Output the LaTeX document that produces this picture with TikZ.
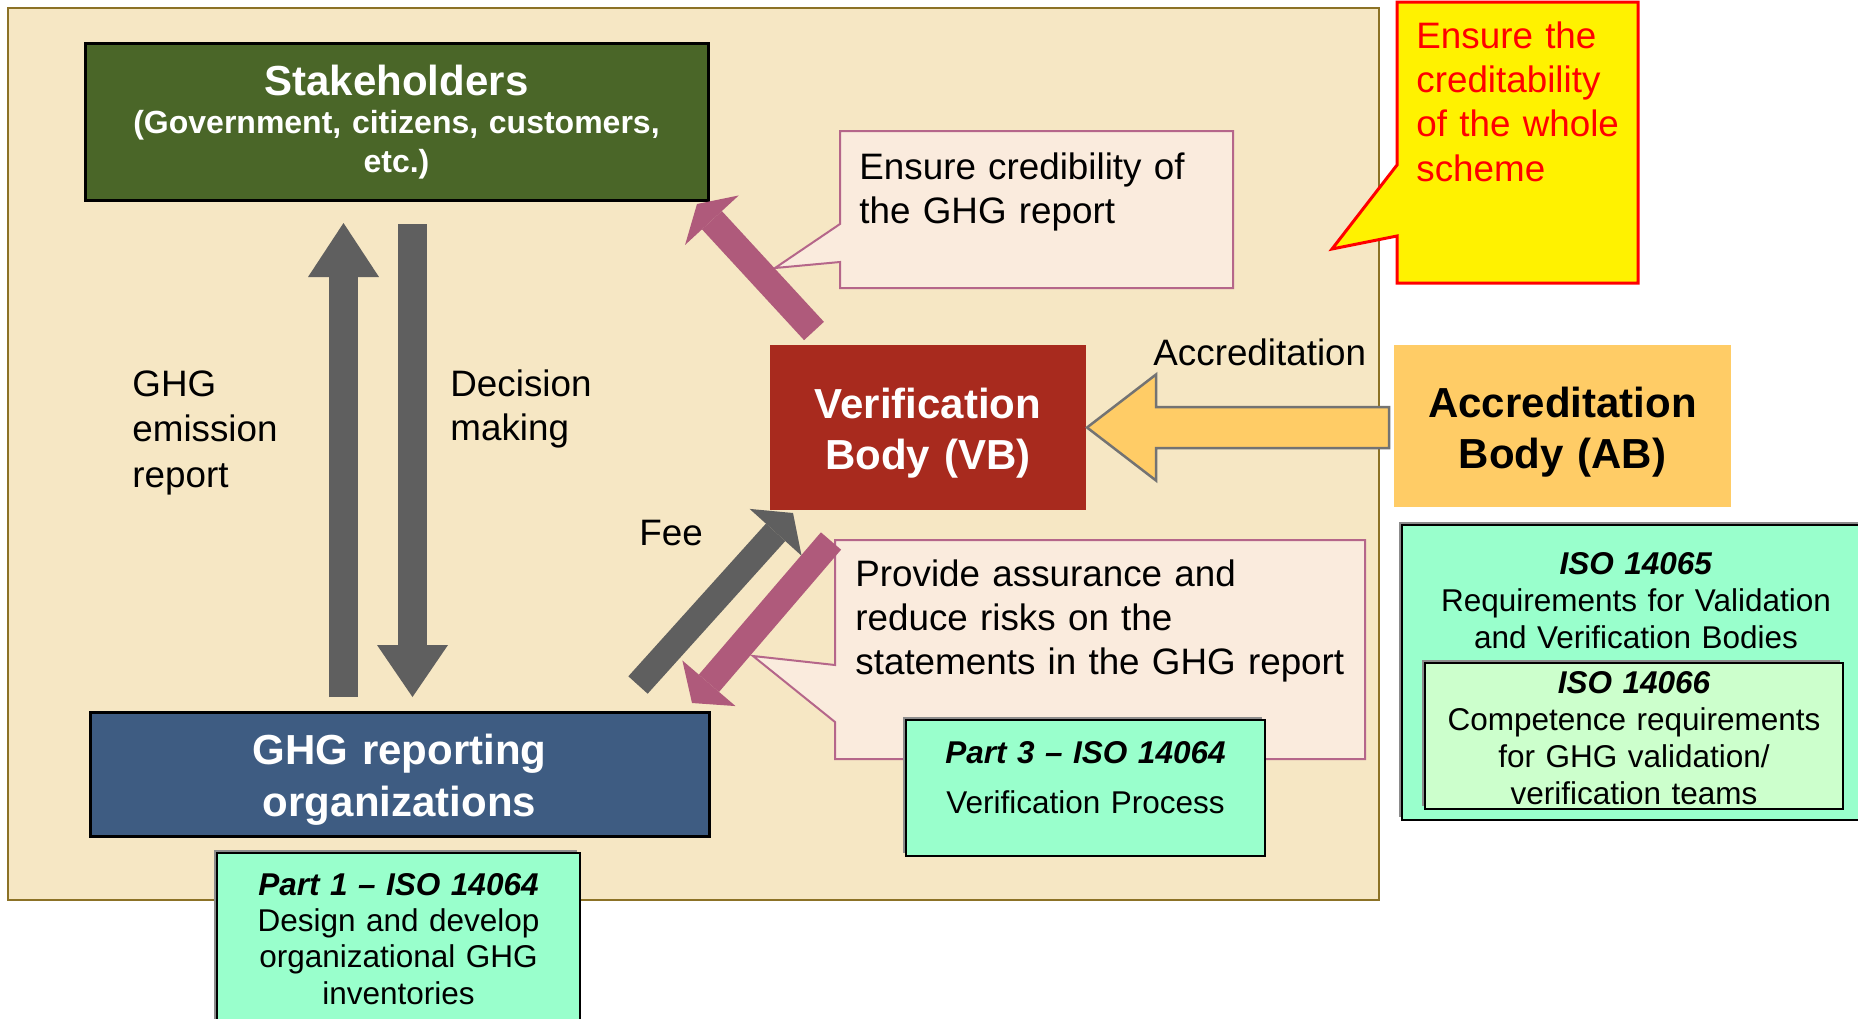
\documentclass[tikz,border=0pt]{standalone}
\usepackage{fontspec}
\setmainfont{Liberation Sans}
\usetikzlibrary{positioning, calc, arrows.meta, shadows}
\definecolor{schemetan}{HTML}{F6E7C4}
\definecolor{schemeedge}{HTML}{8C7226}
\definecolor{stakegreen}{HTML}{4A6628}
\definecolor{orgblue}{HTML}{3E5C82}
\definecolor{vbred}{HTML}{A82A1E}
\definecolor{aborange}{HTML}{FFCC66}
\definecolor{isomint}{HTML}{99FFCC}
\definecolor{isolight}{HTML}{CCFFCC}
\definecolor{notefill}{HTML}{FAEBDD}
\definecolor{noteedge}{HTML}{B5668A}
\definecolor{flowpink}{HTML}{AF5A7B}
\definecolor{flowgrey}{HTML}{5F5F5F}

\begin{document}
\begin{tikzpicture}[x=0.5pt, y=-0.5pt,
    block/.style={rectangle, anchor=north west, inner sep=0pt, outer sep=0pt},
    framed/.style={block, draw=black, line width=1.5pt},
    isobox/.style={block, draw=black, line width=1.25pt,
      drop shadow={shadow xshift=-1.75pt, shadow yshift=1.75pt, fill=gray!90, opacity=1}},
    boxtitle/.style={anchor=base, inner sep=0pt, align=center, text width=300pt,
      font=\bfseries\fontsize{21pt}{25.75pt}\selectfont},
    isotext/.style={anchor=base, inner sep=0pt, align=center, text width=215pt,
      font=\fontsize{15.75pt}{18.5pt}\selectfont},
    caption/.style={anchor=base west, inner sep=0pt, align=left, text width=270pt,
      font=\fontsize{18.4pt}{22.2pt}\selectfont},
    noteline/.style={fill=notefill, draw=noteedge, line width=1pt},
    flowarrow/.style n args={4}{draw=#1, line width=#2,
      -{Triangle[length=#3, width=#4, line width=0pt]}}]

  \useasboundingbox (0,0) rectangle (1858,1018);
  \fill[white] (0,0) rectangle (1858,1018);

% SCHEME BACKGROUND

  \draw[fill=schemetan, draw=schemeedge, line width=1pt] (8,8) rectangle (1379,900);

% BODIES

  \node[framed, fill=stakegreen, minimum width=311.5pt, minimum height=78.5pt] (stake) at (85,43) {};
  \node[framed, fill=orgblue, minimum width=309.5pt, minimum height=62pt] (org) at (90,712) {};
  \node[block, fill=vbred, minimum width=158pt, minimum height=82.5pt] (vb) at (770,345) {};
  \node[block, fill=aborange, minimum width=168.5pt, minimum height=81pt] (ab) at (1394,345) {};

% NOTES

  \node[block, minimum width=196.5pt, minimum height=78.5pt] (credbox) at (840,131) {};
  \draw[noteline] (credbox.north west) -- (credbox.north east) -- (credbox.south east)
    -- (credbox.south west) -- ++(0,-26) -- ($(credbox.north west)+(-65,137)$)
    -- ($(credbox.north west)+(0,93)$) -- cycle;

  \node[block, minimum width=265pt, minimum height=109.5pt] (assurbox) at (835,540) {};
  \draw[noteline] (assurbox.north west) -- (assurbox.north east) -- (assurbox.south east)
    -- (assurbox.south west) -- ++(0,-37) -- ($(assurbox.north west)+(-82,116)$)
    -- ($(assurbox.north west)+(0,125)$) -- cycle;

  \node[block, minimum width=120.5pt, minimum height=140.5pt] (wholebox) at (1397,2) {};
  \draw[fill=yellow, draw=red, line width=1.5pt] (wholebox.north west) -- (wholebox.north east)
    -- (wholebox.south east) -- (wholebox.south west) -- ++(0,-47)
    -- ($(wholebox.north west)+(-65,247)$) -- ($(wholebox.north west)+(0,163)$) -- cycle;

% ACCREDITATION ARROW

  \coordinate (acctip) at ($(vb.east)+(1,0)$);
  \draw[fill=aborange, draw=black!55, line width=1.25pt] (acctip) -- ++(69,-53) -- ++(0,32.5)
    -| ($(ab.west)+(-5,0)$) |- ($(acctip)+(69,20.5)$) -- ++(0,32.5) -- cycle;

% STANDARDS

  \node[isobox, fill=isomint, minimum width=179.5pt, minimum height=68pt] (part3) at (906,720) {};
  \node[isobox, fill=isomint, minimum width=181.5pt, minimum height=87.5pt] (part1) at (217,853) {};
  \node[isobox, fill=isomint, minimum width=235pt, minimum height=147.5pt] (iso65) at (1402,525) {};
  \node[isobox, fill=isolight, minimum width=209pt, minimum height=73pt] (iso66) at (1425,663) {};

% FLOWS

  \draw[flowarrow={flowgrey}{14.5pt}{27pt}{35.5pt}] ($(org.north)+(-56,-15)$) -- ($(stake.south)+(-53,23)$);
  \draw[flowarrow={flowgrey}{14.5pt}{26pt}{35.5pt}] ($(stake.south)+(16,24)$) -- ($(org.north)+(13,-15)$);
  \draw[flowarrow={flowgrey}{13pt}{13pt}{35pt}] ($(org.north east)+(-71,-27)$) -- ($(vb.south west)+(23,3)$);
  \draw[flowarrow={flowpink}{13.5pt}{11pt}{36.5pt}] ($(vb.north west)+(44,-14)$) -- ($(stake.south east)+(-11,4)$);
  \draw[flowarrow={flowpink}{13.3pt}{13pt}{35pt}] ($(vb.south west)+(61,31)$) -- ($(org.north east)+(-17,-9)$);

% TEXTS

  \node[boxtitle, text=white] (staketitle) at ($(stake.north)+(0,52)$) {Stakeholders};
  \node[boxtitle, text=white, font=\bfseries\fontsize{16pt}{19.5pt}\selectfont] (stakesub)
    at ($(stake.north)+(0,90.5)$) {(Government, citizens, customers,\\ etc.)};
  \node[boxtitle, text=white] (orgtitle) at ($(org.north)+(0,52.5)$) {GHG reporting\\ organizations};
  \node[boxtitle, text=white] (vbtitle) at ($(vb.north)+(0,73)$) {Verification\\ Body (VB)};
  \node[boxtitle] (abtitle) at ($(ab.north)+(0,72)$) {Accreditation\\ Body (AB)};

  \node[isotext, font=\fontsize{15.75pt}{18.2pt}\selectfont] (part1title) at ($(part1.north)+(0,42)$)
    {\textbf{\textit{Part 1 -- ISO 14064}}\\ Design and develop\\ organizational GHG\\ inventories};
  \node[isotext] (part3title) at ($(part3.north)+(0,43)$)
    {\textbf{\textit{Part 3 -- ISO 14064}}\\[6.5pt] Verification Process};
  \node[isotext] (iso65title) at ($(iso65.north)+(-1,49)$)
    {\textbf{\textit{ISO 14065}}\\ Requirements for Validation\\ and Verification Bodies};
  \node[isotext] (iso66title) at ($(iso66.north)+(0,30)$)
    {\textbf{\textit{ISO 14066}}\\ Competence requirements\\ for GHG validation/\\ verification teams};

  \node[caption, font=\fontsize{18.4pt}{22.8pt}\selectfont] (emitlabel) at (132,396) {GHG\\ emission\\ report};
  \node[caption] (decidelabel) at (450,396) {Decision\\ making};
  \node[caption] (feelabel) at (639,545) {Fee};
  \node[caption] (acclabel) at (1153,365) {Accreditation};
  \node[caption] (credtext) at ($(credbox.north west)+(19,48)$) {Ensure credibility of\\ the GHG report};
  \node[caption] (assurtext) at ($(assurbox.north west)+(20,46)$)
    {Provide assurance and\\ reduce risks on the\\ statements in the GHG report};
  \node[caption, text=red] (wholetext) at ($(wholebox.north west)+(19,46)$)
    {Ensure the\\ creditability\\ of the whole\\ scheme};

\end{tikzpicture}
\end{document}
